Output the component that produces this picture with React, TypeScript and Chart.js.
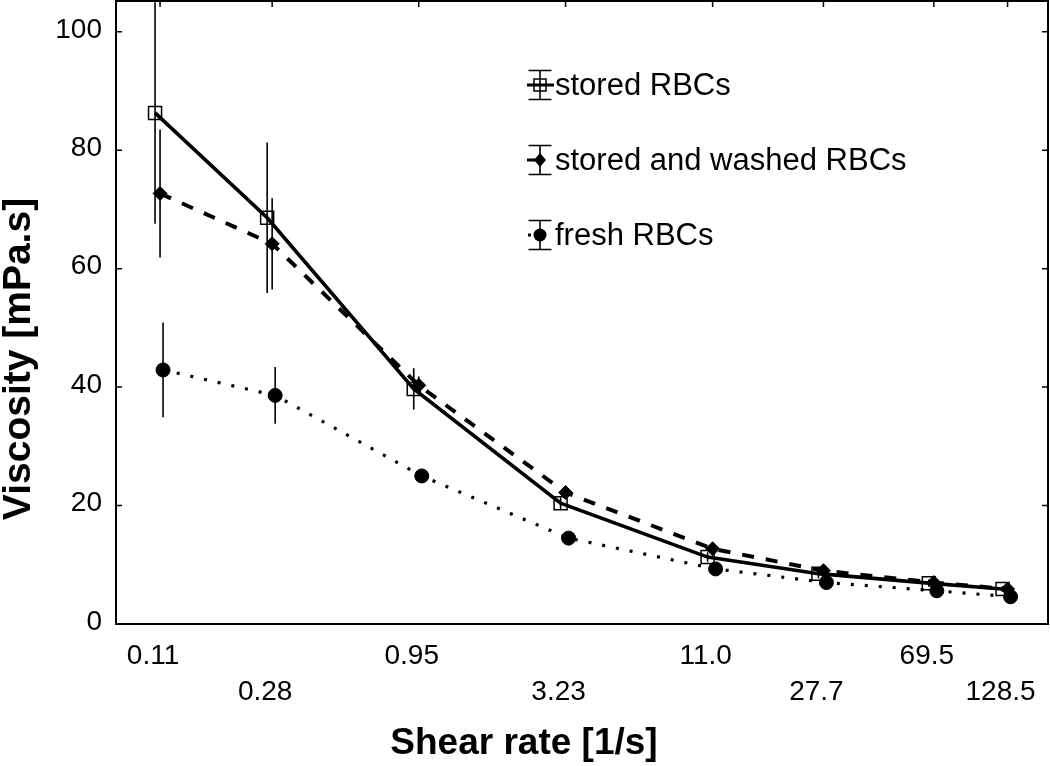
import React, { useEffect, useRef } from 'react';
import { Chart, registerables } from 'chart.js';
Chart.register(...registerables);

// ---- data ----
const shearRates = [0.11, 0.28, 0.95, 3.23, 11.0, 27.7, 69.5, 128.5];
const xTickLabels = ['0.11', '0.28', '0.95', '3.23', '11.0', '27.7', '69.5', '128.5'];
const yTickValues = [0, 20, 40, 60, 80, 100];

const storedValues = [86.3, 68.6, 39.7, 20.4, 11.3, 8.5, 6.9, 5.9];
const storedErrors = [18.7, 12.7, 3.5, 1.0, 0.8, 0.8, 0.6, 0.5];
const washedValues = [72.7, 64.2, 40.3, 22.2, 12.7, 9.0, 7.0, 5.9];
const washedErrors = [10.8, 7.7, 1.5, 1.0, 0.8, 0.8, 0.6, 0.5];
const freshValues = [42.9, 38.6, 25.0, 14.5, 9.3, 7.0, 5.6, 4.6];
const freshErrors = [8.0, 4.8, 1.0, 0.8, 0.6, 0.6, 0.5, 0.4];

const seriesLabels = ['stored RBCs', 'stored and washed RBCs', 'fresh RBCs'];
const xTitle = 'Shear rate [1/s]';
const yTitle = 'Viscosity [mPa.s]';

const FONT = '"Liberation Sans", Arial, Helvetica, sans-serif';

// small horizontal jitter between series (pixels), as in the original plot
const jitterPlugin = {
  id: 'jitter',
  afterDatasetsUpdate(chart: any) {
    chart.data.datasets.forEach((ds: any, di: number) => {
      const meta = chart.getDatasetMeta(di);
      const dx = ds.xShift || 0;
      meta.data.forEach((pt: any) => {
        pt.x += dx;
      });
    });
  },
};

const errorBarPlugin = {
  id: 'errorBars',
  afterDatasetsDraw(chart: any) {
    const ctx = chart.ctx;
    const { left, top, right, bottom } = chart.chartArea;
    const yScale = chart.scales.y;
    ctx.save();
    ctx.beginPath();
    ctx.rect(left, top, right - left, bottom - top);
    ctx.clip();
    chart.data.datasets.forEach((ds: any, di: number) => {
      const meta = chart.getDatasetMeta(di);
      meta.data.forEach((pt: any, i: number) => {
        const v = ds.data[i].y;
        const e = ds.errorBars[i];
        const y1 = yScale.getPixelForValue(v + e);
        const y2 = yScale.getPixelForValue(v - e);
        ctx.strokeStyle = '#000';
        ctx.lineWidth = 1.6;
        ctx.setLineDash([]);
        ctx.beginPath();
        ctx.moveTo(pt.x, y1);
        ctx.lineTo(pt.x, y2);
        ctx.stroke();
      });
    });
    ctx.restore();
  },
};

const framePlugin = {
  id: 'frame',
  afterDraw(chart: any) {
    const ctx = chart.ctx;
    const { left, top, right, bottom } = chart.chartArea;
    const xs = chart.scales.x;
    const ys = chart.scales.y;
    ctx.save();
    ctx.strokeStyle = '#000';
    ctx.setLineDash([]);
    ctx.lineWidth = 2;
    ctx.strokeRect(left, top, right - left, bottom - top);
    ctx.lineWidth = 1.5;
    ctx.beginPath();
    yTickValues.forEach((v) => {
      const y = ys.getPixelForValue(v);
      ctx.moveTo(left, y);
      ctx.lineTo(left + 6, y);
      ctx.moveTo(right, y);
      ctx.lineTo(right - 6, y);
    });
    shearRates.forEach((v) => {
      const x = xs.getPixelForValue(v);
      ctx.moveTo(x, top);
      ctx.lineTo(x, top + 6);
    });
    ctx.stroke();

    // axis titles
    ctx.fillStyle = '#000';
    ctx.textAlign = 'center';
    ctx.textBaseline = 'middle';
    ctx.font = `bold 37px ${FONT}`;
    ctx.fillText(xTitle, 524, 744);
    ctx.font = `bold 39px ${FONT}`;
    ctx.translate(19, 359);
    ctx.rotate(-Math.PI / 2);
    ctx.fillText(yTitle, 0, 0);
    ctx.restore();
  },
};

const legendPlugin = {
  id: 'customLegend',
  afterDraw(chart: any) {
    const ctx = chart.ctx;
    const ix = 540;
    const rows = [85, 160, 235];
    ctx.save();
    chart.data.datasets.forEach((ds: any, di: number) => {
      const y = rows[di];
      ctx.strokeStyle = '#000';
      ctx.fillStyle = '#000';
      ctx.setLineDash([]);
      // error bar icon
      ctx.lineWidth = 1.6;
      ctx.beginPath();
      ctx.moveTo(ix, y - 14.5);
      ctx.lineTo(ix, y + 14.5);
      ctx.moveTo(ix - 11.5, y - 14.5);
      ctx.lineTo(ix + 11.5, y - 14.5);
      ctx.moveTo(ix - 11.5, y + 14.5);
      ctx.lineTo(ix + 11.5, y + 14.5);
      ctx.stroke();
      // line sample
      ctx.lineWidth = 3;
      ctx.beginPath();
      if (di === 0) {
        ctx.moveTo(ix - 13, y);
        ctx.lineTo(ix + 14, y);
      } else if (di === 1) {
        ctx.moveTo(ix - 13, y);
        ctx.lineTo(ix - 4, y);
      } else {
        ctx.moveTo(ix - 12, y);
        ctx.lineTo(ix - 9, y);
      }
      ctx.stroke();
      // marker
      ctx.lineWidth = 1.5;
      if (di === 0) {
        ctx.strokeRect(ix - 6, y - 6, 12, 12);
      } else if (di === 1) {
        ctx.beginPath();
        ctx.moveTo(ix, y - 7);
        ctx.lineTo(ix + 6, y);
        ctx.lineTo(ix, y + 7);
        ctx.lineTo(ix - 6, y);
        ctx.closePath();
        ctx.fill();
      } else {
        ctx.beginPath();
        ctx.arc(ix, y, 6.5, 0, Math.PI * 2);
        ctx.fill();
      }
      ctx.font = `31px ${FONT}`;
      ctx.textAlign = 'left';
      ctx.textBaseline = 'middle';
      ctx.fillText(ds.label, 555, y + 1);
    });
    ctx.restore();
  },
};

export default function App() {
  const canvasRef = useRef<HTMLCanvasElement | null>(null);

  useEffect(() => {
    if (!canvasRef.current) return;
    const mk = (vals: number[]) => shearRates.map((x, i) => ({ x, y: vals[i] }));
    const chart = new Chart(canvasRef.current, {
      type: 'line',
      data: {
        datasets: [
          {
            label: seriesLabels[0],
            data: mk(storedValues),
            errorBars: storedErrors,
            xShift: -5,
            borderColor: '#000',
            borderWidth: 3.6,
            pointStyle: 'rect',
            pointRadius: 9.2,
            pointBackgroundColor: 'rgba(255,255,255,0)',
            pointBorderColor: '#000',
            pointBorderWidth: 1.5,
            tension: 0,
          } as any,
          {
            label: seriesLabels[1],
            data: mk(washedValues),
            errorBars: washedErrors,
            xShift: 0,
            borderColor: '#000',
            borderWidth: 4,
            borderDash: [12, 12],
            pointStyle: 'rectRot',
            pointRadius: 7,
            pointBackgroundColor: '#000',
            pointBorderColor: '#000',
            pointBorderWidth: 1,
            tension: 0,
          } as any,
          {
            label: seriesLabels[2],
            data: mk(freshValues),
            errorBars: freshErrors,
            xShift: 3,
            borderColor: '#000',
            borderWidth: 3.2,
            borderDash: [3, 11],
            pointStyle: 'circle',
            pointRadius: 7,
            pointBackgroundColor: '#000',
            pointBorderColor: '#000',
            pointBorderWidth: 1,
            tension: 0,
          } as any,
        ],
      },
      options: {
        animation: false,
        responsive: true,
        maintainAspectRatio: false,
        layout: { autoPadding: false, padding: { top: 1, right: 2, left: 0, bottom: 0 } },
        plugins: {
          legend: { display: false },
          tooltip: { enabled: false },
        },
        scales: {
          x: {
            type: 'logarithmic',
            min: 0.0762,
            max: 180,
            afterBuildTicks: (s: any) => {
              s.ticks = shearRates.map((v) => ({ value: v }));
            },
            afterFit: (s: any) => {
              s.height = 142;
              s.paddingLeft = 0;
              s.paddingRight = 0;
              s.paddingTop = 0;
              s.paddingBottom = 0;
            },
            grid: { display: false, drawTicks: false },
            border: { display: false },
            ticks: {
              autoSkip: false,
              maxRotation: 0,
              minRotation: 0,
              color: '#000',
              padding: 14,
              labelOffset: -7,
              font: { family: FONT, size: 28, lineHeight: 1.29 },
              callback: (_v: any, i: number) =>
                i % 2 === 0 ? [xTickLabels[i], ''] : ['', xTickLabels[i]],
            },
          },
          y: {
            type: 'linear',
            min: 0,
            max: 105.2,
            afterBuildTicks: (s: any) => {
              s.ticks = yTickValues.map((v) => ({ value: v }));
            },
            afterFit: (s: any) => {
              s.width = 116;
              s.paddingLeft = 0;
              s.paddingRight = 0;
              s.paddingTop = 0;
              s.paddingBottom = 0;
            },
            grid: { display: false, drawTicks: false },
            border: { display: false },
            ticks: {
              color: '#000',
              padding: 14,
              labelOffset: -2,
              font: { family: FONT, size: 28 },
              callback: (v: any) => String(v),
            },
          },
        },
      } as any,
      plugins: [jitterPlugin, errorBarPlugin, framePlugin, legendPlugin],
    });
    return () => chart.destroy();
  }, []);

  return (
    <div style={{ position: 'fixed', left: 0, top: 0, width: 1050, height: 766, background: '#fff' }}>
      <canvas ref={canvasRef} />
    </div>
  );
}
